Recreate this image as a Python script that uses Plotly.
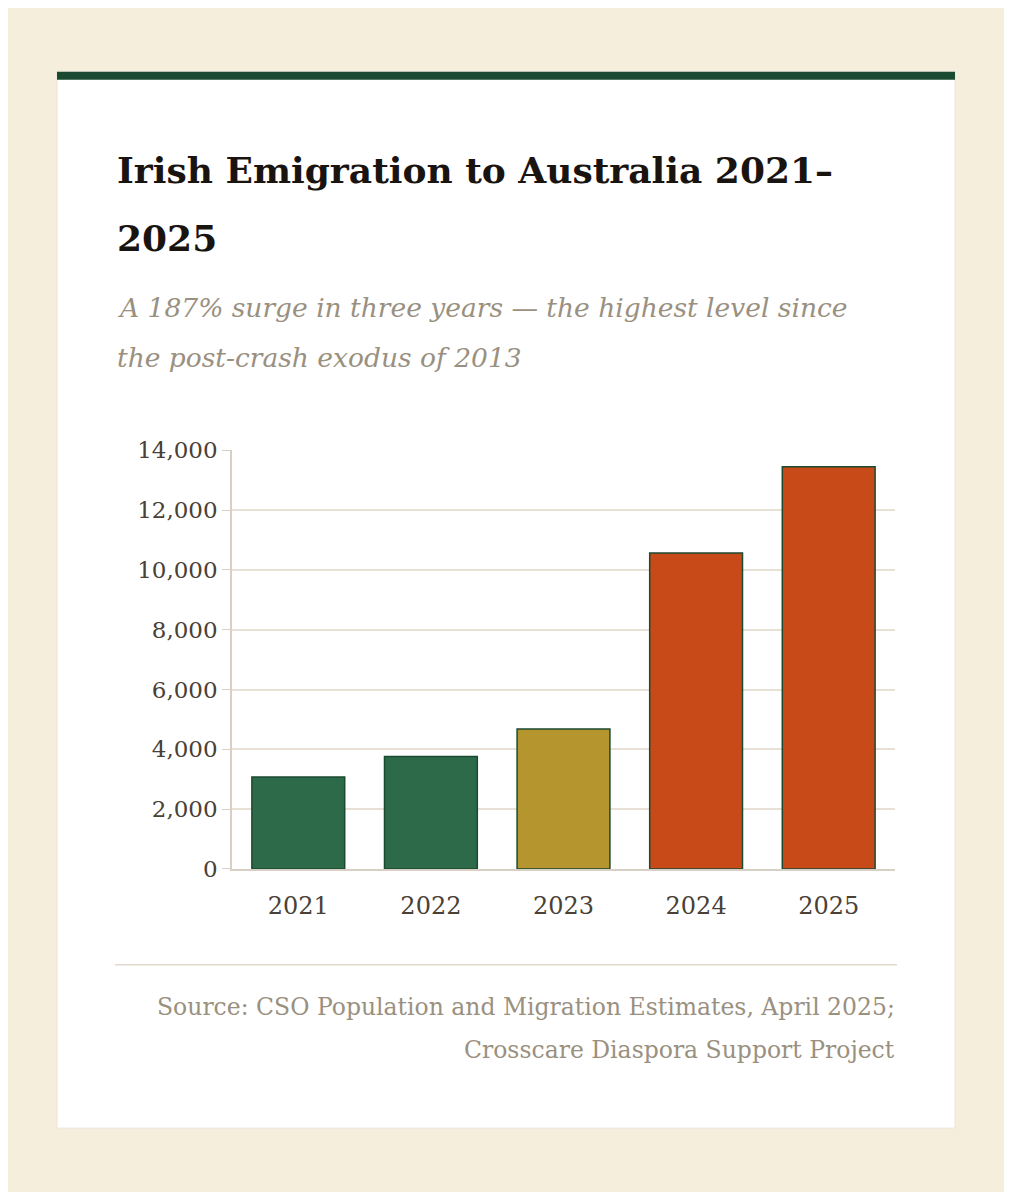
import plotly.graph_objects as go

years = ["2021", "2022", "2023", "2024", "2025"]
emigrants = [3075, 3760, 4680, 10570, 13450]
colors = ["#2d6a4a", "#2d6a4a", "#b5962e", "#c84a18", "#c84a18"]
yticks = [0, 2000, 4000, 6000, 8000, 10000, 12000, 14000]

OFF = 8
W, H = 1012 - 2 * OFF, 1200 - 2 * OFF
def px(x): return (x - OFF) / W
def py(y): return 1 - (y - OFF) / H

fig = go.Figure(go.Bar(
    x=years, y=emigrants, marker=dict(color=colors, line=dict(color="#1a4a30", width=1.5)),
    width=0.7, hoverinfo="skip"))

font = "DejaVu Serif"
fig.update_layout(
    width=W, height=H, margin=dict(l=0, r=0, t=0, b=0),
    paper_bgcolor="#f5eedd", plot_bgcolor="white", showlegend=False,
    font=dict(family=font, color="#4a4035", size=23),
    xaxis=dict(domain=[px(232), px(895)], showline=True, linecolor="#d8d0c5", linewidth=1.5,
               ticks="", tickfont=dict(size=24), ticklabelstandoff=14),
    yaxis=dict(domain=[py(875), py(447)], range=[0, 14000], tickvals=yticks,
               tickformat=",d", gridcolor="#e8e0d5", gridwidth=1.5, showline=True,
               linecolor="#d8d0c5", linewidth=1.5, zeroline=False, ticks="outside",
               ticklen=8, tickcolor="#d8d0c5", tickfont=dict(size=23)),
    shapes=[
        dict(type="rect", xref="paper", yref="paper", x0=px(57), x1=px(955), y0=py(1140), y1=py(60),
             fillcolor="white", line=dict(color="#ece6da", width=1), layer="below"),
        dict(type="rect", xref="paper", yref="paper", x0=px(57), x1=px(955), y0=py(68), y1=py(60),
             fillcolor="#1a4a30", line=dict(width=0), layer="below"),
        dict(type="line", xref="paper", yref="paper", x0=px(115), x1=px(897), y0=py(973), y1=py(973),
             line=dict(color="#e0d8cc", width=1.5)),
    ],
    annotations=[
        dict(xref="paper", yref="paper", x=px(115), y=py(160), xanchor="left", yanchor="middle",
             text="<b>Irish Emigration to Australia 2021–</b>", showarrow=False,
             font=dict(size=36, color="#1a1410")),
        dict(xref="paper", yref="paper", x=px(115), y=py(230), xanchor="left", yanchor="middle",
             text="<b>2025</b>", showarrow=False, font=dict(size=36, color="#1a1410")),
        dict(xref="paper", yref="paper", x=px(115), y=py(301), xanchor="left", yanchor="middle",
             text="<i>A 187% surge in three years — the highest level since</i>", showarrow=False,
             font=dict(size=26.5, color="#9a9080")),
        dict(xref="paper", yref="paper", x=px(115), y=py(352), xanchor="left", yanchor="middle",
             text="<i>the post-crash exodus of 2013</i>", showarrow=False,
             font=dict(size=26.5, color="#9a9080")),
        dict(xref="paper", yref="paper", x=px(897), y=py(1016), xanchor="right", yanchor="middle",
             text="Source: CSO Population and Migration Estimates, April 2025;", showarrow=False,
             font=dict(size=23.5, color="#9a9080")),
        dict(xref="paper", yref="paper", x=px(897), y=py(1060), xanchor="right", yanchor="middle",
             text="Crosscare Diaspora Support Project", showarrow=False,
             font=dict(size=23.5, color="#9a9080")),
    ],
)
fig.write_html("out.html")
